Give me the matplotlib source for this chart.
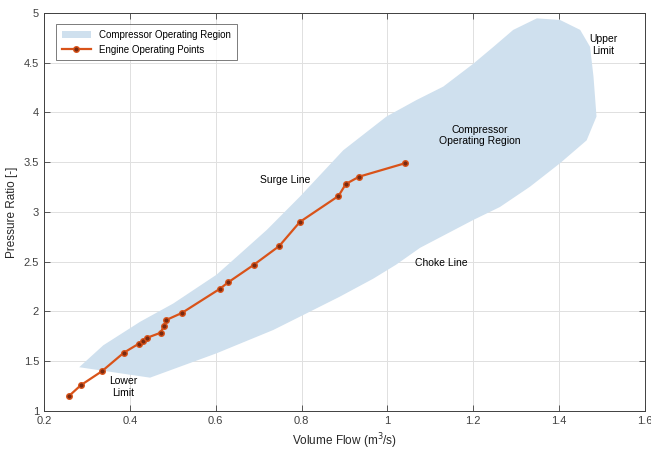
from matplotlib import pyplot as plt
from matplotlib.patches import Polygon

plt.rcParams['font.family'] = ['Liberation Sans', 'DejaVu Sans']

#%% Data
# engine operating points
flow = [0.259, 0.286, 0.335, 0.386, 0.421, 0.431, 0.439, 0.472, 0.479, 0.485,
        0.521, 0.609, 0.629, 0.688, 0.748, 0.796, 0.886, 0.903, 0.934, 1.041]
pr = [1.154, 1.26, 1.40, 1.586, 1.677, 1.707, 1.734, 1.787, 1.857, 1.915,
      1.985, 2.226, 2.293, 2.467, 2.658, 2.90, 3.161, 3.281, 3.355, 3.49]

# compressor operating region outline (surge line -> upper limit -> choke line -> lower limit)
region_x = [0.282, 0.338, 0.424, 0.501, 0.602, 0.649, 0.719, 0.796, 0.897, 0.998,
            1.068, 1.13, 1.2, 1.247, 1.293, 1.348, 1.402, 1.449, 1.472, 1.48,
            1.487, 1.464, 1.402, 1.332, 1.262, 1.2, 1.076, 1.02, 0.967, 0.889,
            0.804, 0.734, 0.602, 0.447]
region_y = [1.44, 1.66, 1.897, 2.08, 2.37, 2.55, 2.82, 3.154, 3.62, 3.96,
            4.126, 4.26, 4.49, 4.66, 4.83, 4.946, 4.93, 4.83, 4.66, 4.36,
            3.96, 3.72, 3.49, 3.254, 3.05, 2.92, 2.64, 2.47, 2.33, 2.149,
            1.965, 1.814, 1.58, 1.335]

#%% Plot
fig = plt.figure(figsize=(6.51, 4.51), dpi=100)
ax = fig.add_axes([0.0676, 0.0887, 0.9232, 0.8825])

poly = Polygon(list(zip(region_x, region_y)), closed=True, facecolor='#cfe0ee',
               edgecolor='none', label='Compressor Operating Region', zorder=1)
ax.add_patch(poly)
ax.plot(flow, pr, color='#d95319', linewidth=1.6, marker='o', markersize=4,
        markerfacecolor='#7a2a10', markeredgecolor='#d95319', markeredgewidth=1,
        label='Engine Operating Points', zorder=3)

ax.text(0.761, 3.32, 'Surge Line', fontsize=7.5, ha='center', va='center')
ax.text(1.216, 3.77, 'Compressor\nOperating Region', fontsize=7.5, ha='center', va='center')
ax.text(1.502, 4.68, 'Upper\nLimit', fontsize=7.5, ha='center', va='center')
ax.text(1.125, 2.49, 'Choke Line', fontsize=7.5, ha='center', va='center')
ax.text(0.384, 1.24, 'Lower\nLimit', fontsize=7.5, ha='center', va='center')

ax.set_xlim([0.2, 1.6])
ax.set_ylim([1, 5])
ax.set_xticks([0.2, 0.4, 0.6, 0.8, 1, 1.2, 1.4, 1.6])
ax.set_xticklabels(['0.2', '0.4', '0.6', '0.8', '1', '1.2', '1.4', '1.6'])
ax.set_yticks([1, 1.5, 2, 2.5, 3, 3.5, 4, 4.5, 5])
ax.set_yticklabels(['1', '1.5', '2', '2.5', '3', '3.5', '4', '4.5', '5'])
ax.tick_params(direction='in', top=True, right=True, labelsize=8, colors='#404040',
               length=4, width=0.6)
ax.grid(True, color='#e0e0e0', linewidth=0.7, zorder=0)
ax.set_axisbelow(True)
for s in ax.spines.values():
    s.set_color('#404040')
    s.set_linewidth(0.7)

ax.set_xlabel('Volume Flow (m$^3$/s)', fontsize=8.5, color='#262626', labelpad=4)
ax.set_ylabel('Pressure Ratio [-]', fontsize=8.5, color='#262626', labelpad=4)

leg = ax.legend(loc='upper left', fontsize=7, frameon=True, fancybox=False,
                borderpad=0.6, handlelength=3, bbox_to_anchor=(0.012, 0.985))
leg.get_frame().set_edgecolor('#404040')
leg.get_frame().set_linewidth(0.6)

plt.savefig('out.png', dpi=100)
